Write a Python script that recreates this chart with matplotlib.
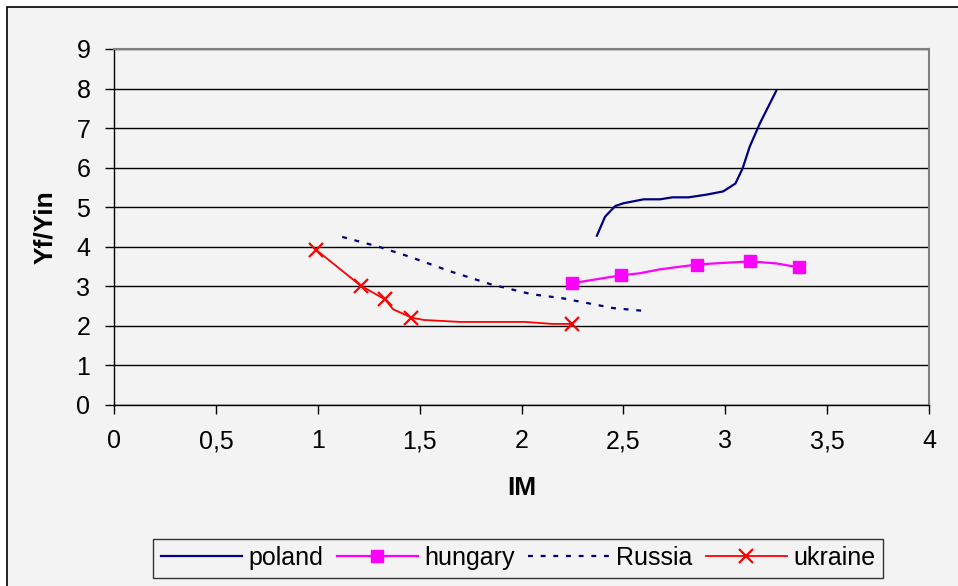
import matplotlib
matplotlib.use("Agg")
import matplotlib.pyplot as plt
from matplotlib.patches import Rectangle
from matplotlib.ticker import FuncFormatter, MultipleLocator

plt.rcParams['font.family'] = ['Liberation Sans', 'DejaVu Sans']

# Series values (IM on x, Yf/Yin on y)
poland_x = [2.37, 2.41, 2.46, 2.50, 2.60, 2.68, 2.74, 2.82, 2.91, 2.99, 3.05, 3.085, 3.12, 3.17, 3.25]
poland_y = [4.28, 4.76, 5.03, 5.10, 5.20, 5.20, 5.25, 5.25, 5.32, 5.40, 5.60, 5.98, 6.53, 7.12, 7.94]

hungary_x = [2.25, 2.49, 2.58, 2.68, 2.86, 2.95, 3.12, 3.25, 3.36]
hungary_y = [3.08, 3.28, 3.33, 3.43, 3.55, 3.58, 3.63, 3.58, 3.48]
hungary_marks = [0, 1, 4, 6, 8]

russia_x = [1.12, 1.30, 1.45, 1.65, 1.85, 2.05, 2.20, 2.35, 2.45, 2.62]
russia_y = [4.25, 4.00, 3.75, 3.38, 3.05, 2.80, 2.70, 2.55, 2.45, 2.37]

ukraine_x = [0.99, 1.21, 1.33, 1.37, 1.46, 1.52, 1.70, 2.02, 2.15, 2.25]
ukraine_y = [3.93, 3.02, 2.67, 2.42, 2.21, 2.15, 2.10, 2.10, 2.05, 2.05]
ukraine_marks = [0, 1, 2, 4, 9]

x_label = "IM"
y_label = "Yf/Yin"

W, H = 958, 586
fig = plt.figure(figsize=(W / 100, H / 100), dpi=100, facecolor='white')

# chart area panel with outer border
fig.patches.append(Rectangle((7 / W, -0.05), 1.1, 1 - 7 / H + 0.05, transform=fig.transFigure,
                             facecolor='#f3f3f3', edgecolor='black', linewidth=1.2, zorder=-5))

ax = fig.add_axes([114 / W, 1 - 405 / H, (929 - 114) / W, (405 - 49) / H])
ax.set_facecolor('#f3f3f3')

ax.plot(poland_x, poland_y, color='#000080', lw=1.6, label='poland', zorder=3)
ax.plot(hungary_x, hungary_y, color='#ff00ff', lw=1.6, marker='s', markersize=8.5,
        markevery=hungary_marks, markeredgecolor='#ff00ff', label='hungary', zorder=3)
ax.plot(russia_x, russia_y, color='#000080', lw=1.6, linestyle=(0, (2.2, 3.5)),
        label='Russia', zorder=3)
ax.plot(ukraine_x, ukraine_y, color='#ff0000', lw=1.3, marker='x', markersize=10,
        markeredgewidth=1.6, markevery=ukraine_marks, label='ukraine', zorder=3)

ax.set_xlim(0, 4)
ax.set_ylim(0, 9)
ax.xaxis.set_major_locator(MultipleLocator(0.5))
ax.yaxis.set_major_locator(MultipleLocator(1))
ax.xaxis.set_major_formatter(FuncFormatter(lambda v, p: f"{v:g}".replace('.', ',')))
ax.yaxis.grid(True, color='black', lw=1.0)
ax.set_axisbelow(True)

for side in ('top', 'right'):
    ax.spines[side].set_color('#808080')
    ax.spines[side].set_linewidth(1.5)
for side in ('left', 'bottom'):
    ax.spines[side].set_color('black')
    ax.spines[side].set_linewidth(1.0)

ax.tick_params(axis='both', direction='out', length=6.5, width=1, color='black',
               labelsize=18)
ax.tick_params(axis='x', pad=11)
ax.tick_params(axis='y', pad=10.5)

ax.set_xlabel(x_label, fontsize=19, fontweight='bold')
ax.set_ylabel(y_label, fontsize=19, fontweight='bold')
ax.xaxis.set_label_coords(0.5, -0.2)
ax.yaxis.set_label_coords(-0.07, 0.5)

leg = fig.legend(loc='center', bbox_to_anchor=(518 / W, 1 - 558 / H), ncol=4,
                 fontsize=18, frameon=True, fancybox=False, edgecolor='#333333',
                 facecolor='#f3f3f3', framealpha=1, handlelength=3.25,
                 handletextpad=0.24, columnspacing=0.55, borderpad=0.3,
                 borderaxespad=0)
leg.get_frame().set_linewidth(1.0)

fig.savefig('out.png', dpi=100, facecolor=fig.get_facecolor())
